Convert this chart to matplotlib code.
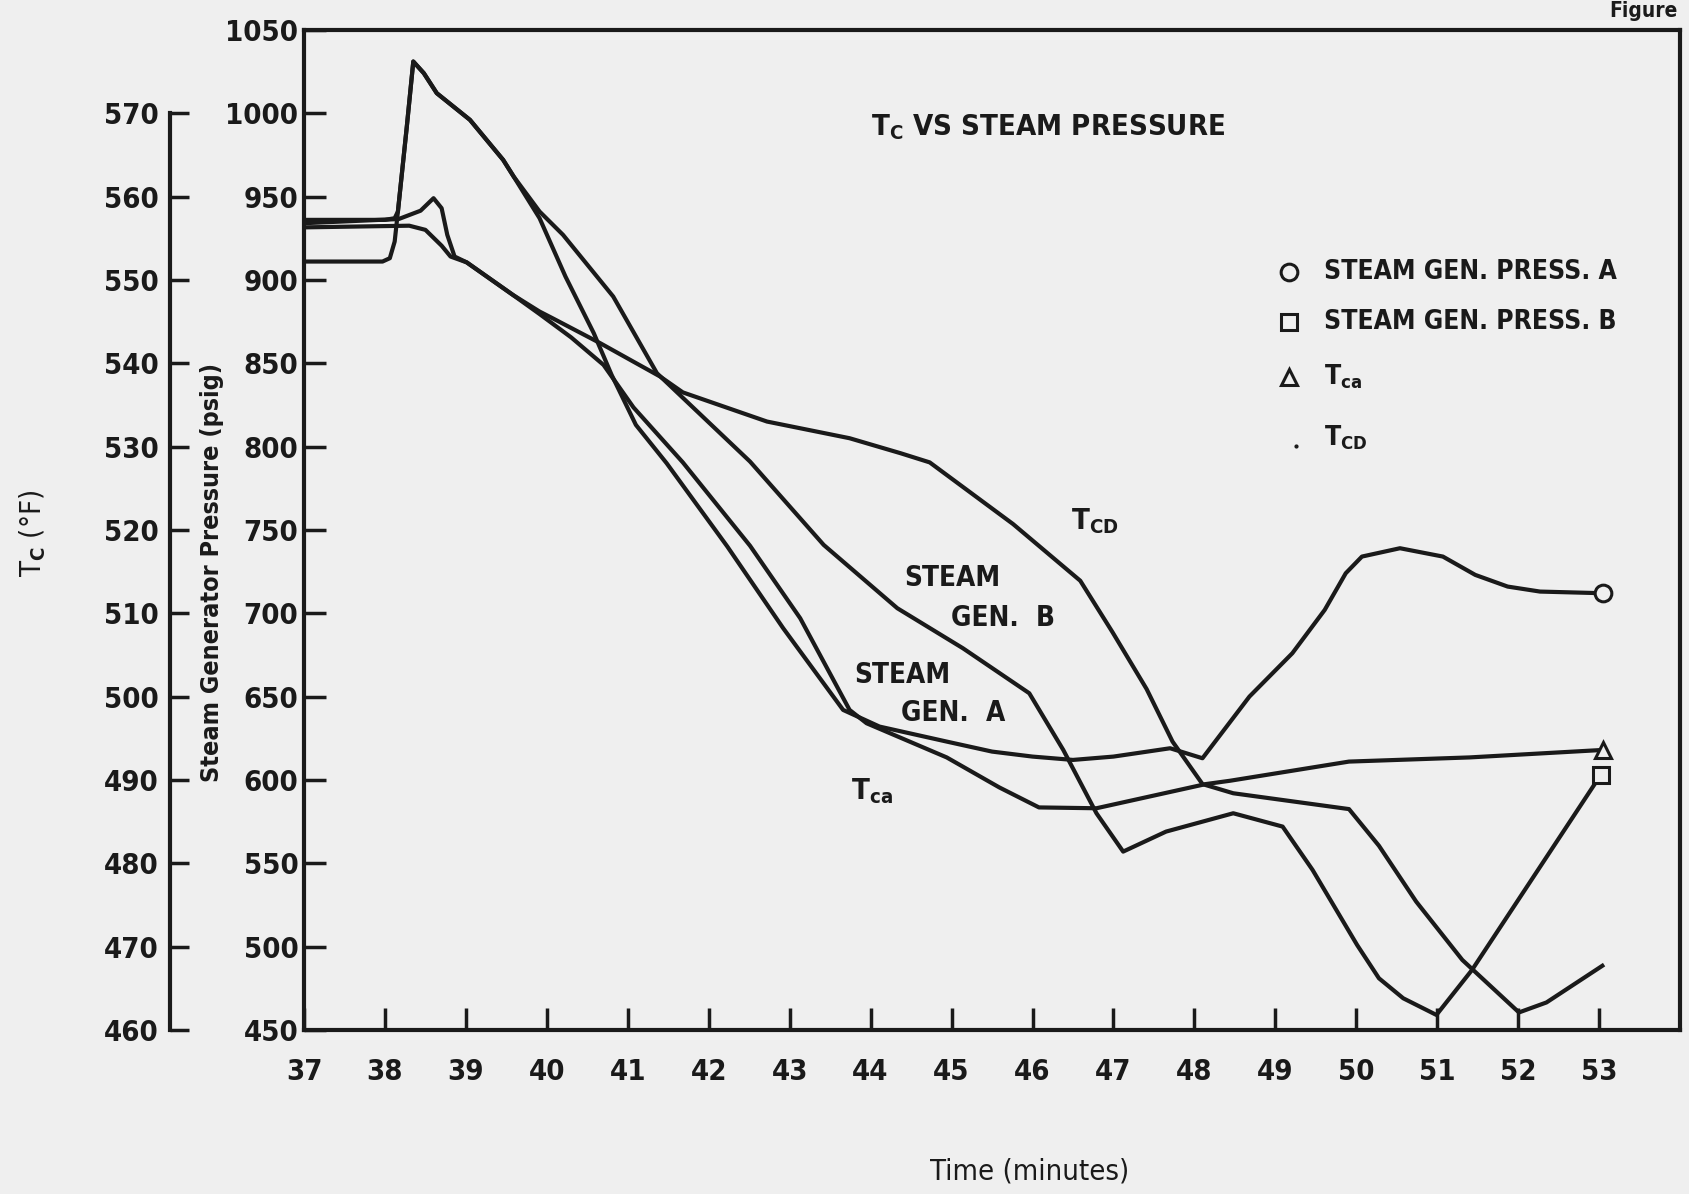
import matplotlib.pyplot as plt
from matplotlib import font_manager as fm

# narrow bold face, closest to the typewriter lettering of the scan
fam, stretch = 'DejaVu Sans', 'normal'
for f in fm.fontManager.ttflist:
    if f.name.startswith('DejaVu Sans') and str(f.stretch) == 'condensed':
        fam, stretch = f.name, f.stretch
        break

plt.rcParams['font.family'] = [fam, 'DejaVu Sans']
plt.rcParams['font.stretch'] = stretch
plt.rcParams['font.weight'] = 'bold'
plt.rcParams['mathtext.fontset'] = 'custom'
plt.rcParams['mathtext.rm'] = fam + ':bold'
plt.rcParams['mathtext.it'] = fam + ':bold'
plt.rcParams['mathtext.bf'] = fam + ':bold'

# steam generator pressures (psig) vs time (minutes)
sga_t = [37.0, 37.97, 38.06, 38.12, 38.16, 38.27, 38.35, 38.48, 38.64, 39.05, 39.46, 39.59,
         39.91, 40.23, 40.58, 40.80, 41.10, 41.48, 42.23, 42.92, 43.66, 44.11, 44.94, 45.5, 46.0,
         46.5, 47.0, 47.7, 48.1, 48.68, 49.21, 49.61, 49.87, 50.07, 50.54, 51.07, 51.47,
         51.87, 52.27, 53.05]
sga_p = [911, 911, 913, 923, 941, 992, 1031, 1024, 1012, 996, 972, 962,
         937, 902, 868, 843, 813, 790, 740, 691, 642, 632, 623, 617, 614,
         612, 614, 619, 613, 650, 676, 702, 724, 734, 739, 734, 723,
         716, 713, 712]

sgb_t = [37.0, 38.0, 38.12, 38.16, 38.27, 38.35, 38.48, 38.64, 39.05, 39.46, 39.59, 39.91,
         40.20, 40.82, 41.36, 42.51, 43.42, 44.33, 45.14, 45.96, 46.38, 46.79, 47.12,
         47.65, 48.48, 49.09, 49.46, 50.01, 50.28, 50.58, 50.99, 51.43, 53.02]
sgb_p = [936, 936, 937, 941, 992, 1031, 1024, 1012, 996, 972, 962, 941,
         927, 890, 844, 791, 741, 703, 679, 652, 618, 580, 557,
         569, 580, 572, 546, 501, 481, 469, 459, 486, 603]

# cold leg temperatures (deg F)
tca_t = [37.0, 38.30, 38.50, 38.70, 38.81, 39.01, 39.58, 39.91, 40.30, 40.70, 41.07, 41.68,
         42.51, 43.13, 43.74, 43.95, 44.94, 45.59, 46.08, 46.79, 48.14, 48.44, 49.91,
         51.40, 53.05]
tca_v = [556.3, 556.5, 556.0, 554.1, 552.8, 552.1, 548.2, 545.9, 543.1, 539.8, 534.7, 528.1,
         518.1, 509.4, 498.4, 496.8, 492.7, 489.1, 486.7, 486.6, 489.5, 489.9, 492.2,
         492.7, 493.6]

tcb_t = [37.0, 38.17, 38.44, 38.60, 38.70, 38.77, 38.86, 39.01, 39.58, 39.91, 40.07, 40.66,
         41.40, 41.68, 42.72, 43.74, 44.37, 44.73, 45.76, 46.59, 46.99, 47.41, 47.73,
         48.10, 48.48, 49.91, 50.28, 50.74, 51.31, 52.01, 52.35, 53.04]
tcb_v = [556.8, 557.3, 558.3, 559.8, 558.6, 555.4, 552.8, 552.1, 548.2, 546.2, 545.4, 542.4,
         538.4, 536.5, 533.0, 531.0, 529.2, 528.1, 520.7, 513.9, 507.7, 500.9, 494.6,
         489.5, 488.4, 486.5, 482.1, 475.4, 468.4, 462.1, 463.3, 467.7]

x_ticks = list(range(37, 54))
p_ticks = list(range(450, 1051, 50))
t_ticks = list(range(460, 571, 10))

legend_labels = ['STEAM GEN. PRESS. A', 'STEAM GEN. PRESS. B',
                 r'T$_{\mathrm{ca}}$', r'T$_{\mathrm{CD}}$']
legend_marks = ['o', 's', '^', '.']

ink = '#1a1a1a'
paper = '#efefef'

fig = plt.figure(figsize=(16.89, 11.94), dpi=100, facecolor=paper)
ax = fig.add_axes([0.18, 0.1374, 0.8147, 0.8376])
ax.set_facecolor(paper)
ax.set_xlim(37, 54)
ax.set_ylim(450, 1050)

# temperature scale shares the frame: 460 F at 450 psig, 570 F at 1000 psig
axT = ax.twinx()
axT.set_ylim(460, 580)

ax.plot(sga_t, sga_p, color=ink, lw=3, marker='o', markevery=[-1], ms=12,
        mfc=paper, mec=ink, mew=2.2)
ax.plot(sgb_t, sgb_p, color=ink, lw=3, marker='s', markevery=[-1], ms=12,
        mfc=paper, mec=ink, mew=2.2)
axT.plot(tca_t, tca_v, color=ink, lw=3, marker='^', markevery=[-1], ms=12,
         mfc=paper, mec=ink, mew=2.2)
axT.plot(tcb_t, tcb_v, color=ink, lw=3)

for s in ax.spines.values():
    s.set_linewidth(3)
    s.set_color(ink)

ax.set_xticks(x_ticks)
ax.set_yticks(p_ticks)
ax.tick_params(axis='both', direction='in', length=16, width=2.5, color=ink,
               labelsize=21, labelcolor=ink)
ax.tick_params(axis='x', pad=20)
ax.tick_params(axis='y', pad=4)

for side in ['right', 'top', 'bottom']:
    axT.spines[side].set_visible(False)
axT.spines['left'].set_visible(True)
axT.spines['left'].set_position(('outward', 96.5))
axT.spines['left'].set_bounds(460, 570)
axT.spines['left'].set_linewidth(3)
axT.spines['left'].set_color(ink)
axT.yaxis.set_ticks_position('left')
axT.yaxis.set_label_position('left')
axT.set_yticks(t_ticks)
axT.tick_params(axis='y', direction='in', length=14, width=2.5, color=ink,
                labelsize=21, labelcolor=ink, pad=8)

ax.set_ylabel('Steam Generator Pressure (psig)', fontsize=18, fontweight='bold', color=ink)
ax.yaxis.set_label_coords(-0.058, 0.457)
axT.set_ylabel(r'T$_{\mathrm{C}}$ (°F)', fontsize=21, color=ink)
axT.yaxis.set_label_coords(-0.186, 0.497)
ax.set_xlabel('Time (minutes)', fontsize=21, fontweight='normal', color=ink)
ax.xaxis.set_label_coords(0.527, -0.128)

ax.text(0.541, 0.903, r'T$_{\mathrm{C}}$ VS STEAM PRESSURE', transform=ax.transAxes,
        ha='center', va='center', fontsize=21, color=ink)

# curve labels
ax.text(44.42, 721, 'STEAM', fontsize=20, color=ink, va='center')
ax.text(44.99, 697, 'GEN.  B', fontsize=20, color=ink, va='center')
ax.text(43.80, 663, 'STEAM', fontsize=20, color=ink, va='center')
ax.text(44.37, 640, 'GEN.  A', fontsize=20, color=ink, va='center')
ax.text(43.76, 593, r'T$_{\mathrm{ca}}$', fontsize=21, color=ink, va='center')
ax.text(46.48, 755, r'T$_{\mathrm{CD}}$', fontsize=21, color=ink, va='center')

# legend
rows = [0.758, 0.708, 0.653, 0.592]
for lab, mk, yy in zip(legend_labels, legend_marks, rows):
    if mk == '.':
        ax.plot(0.721, yy - 0.008, marker='.', ms=4, color=ink, transform=ax.transAxes)
    else:
        ax.plot(0.716, yy, marker=mk, ms=12, mfc=paper, mec=ink, mew=2.2,
                linestyle='none', transform=ax.transAxes)
    ax.text(0.741, yy, lab, transform=ax.transAxes, fontsize=19, color=ink, va='center')

fig.text(0.953, 0.999, 'Figure', fontsize=15, color=ink, va='top')

fig.savefig('out.png', dpi=100, facecolor=paper)
